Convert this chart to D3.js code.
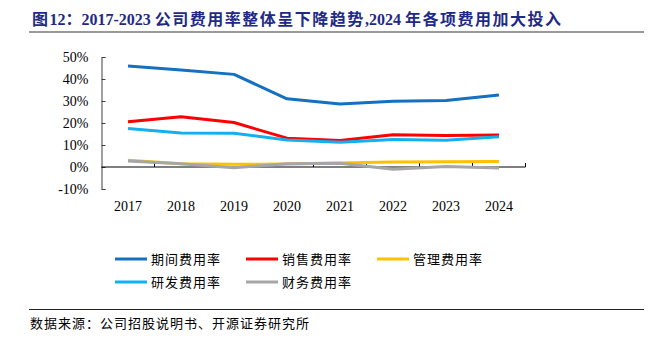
<!DOCTYPE html>
<html>
<head>
<meta charset="utf-8">
<script src="https://cdn.jsdelivr.net/npm/d3@7"></script>
<style>
  body { margin: 0; background: #fff; }
  svg { display: block; }
</style>
</head>
<body>
<div id="chart"></div>
<script>
var years = ["2017", "2018", "2019", "2020", "2021", "2022", "2023", "2024"];

var seriesNames  = ["期间费用率", "销售费用率", "管理费用率", "研发费用率", "财务费用率"];
var seriesColors = ["#1470c0", "#ff0000", "#ffc000", "#12b0ee", "#a6a6a6"];

var periodRate  = [0.459, 0.441, 0.421, 0.310, 0.286, 0.299, 0.302, 0.327];
var salesRate   = [0.206, 0.228, 0.202, 0.131, 0.120, 0.147, 0.143, 0.146];
var adminRate   = [0.031, 0.015, 0.012, 0.014, 0.018, 0.023, 0.024, 0.025];
var rdRate      = [0.175, 0.155, 0.153, 0.123, 0.112, 0.125, 0.122, 0.137];
var financeRate = [0.027, 0.015, -0.003, 0.015, 0.017, -0.010, 0.002, -0.004];

var seriesValues = [periodRate, salesRate, adminRate, rdRate, financeRate];

var yTicks = [-0.1, 0, 0.1, 0.2, 0.3, 0.4, 0.5];

var titleText = "图12：2017-2023 公司费用率整体呈下降趋势,2024 年各项费用加大投入";

var W = 651, H = 342;
var serif = "'Times New Roman', 'Liberation Serif', 'Noto Sans CJK SC', serif";
var cjk = "'Noto Sans CJK SC', sans-serif";

var svg = d3.select("#chart").append("svg")
    .attr("width", W)
    .attr("height", H);

// title: CJK runs get a bit of extra spacing, latin runs don't
var titleRuns = titleText.match(/[\u3000-\u9fff\uff00-\uffef]+|[^\u3000-\u9fff\uff00-\uffef]+/g);
svg.append("text")
    .attr("x", 32)
    .attr("y", 25)
    .attr("font-family", serif)
    .attr("font-weight", "bold")
    .attr("font-size", 16)
    .attr("fill", "#1f2a85")
    .selectAll("tspan")
    .data(titleRuns)
    .enter()
    .append("tspan")
    .attr("letter-spacing", function (d) { return /[\u3000-\u9fff]/.test(d) ? 1.5 : 0; })
    .text(function (d) { return d; });

svg.append("line")
    .attr("x1", 29).attr("x2", 644)
    .attr("y1", 32).attr("y2", 32)
    .attr("stroke", "#999")
    .attr("stroke-width", 2);

var x = d3.scaleBand().domain(years).range([101.5, 525.5]);
var y = d3.scaleLinear().domain([-0.1, 0.5]).range([189, 57]);

// y axis
var yAxis = svg.append("g")
    .attr("transform", "translate(101.5,0)")
    .call(d3.axisLeft(y)
        .tickValues(yTicks)
        .tickSize(-4)
        .tickPadding(13)
        .tickFormat(function (d) { return Math.round(d * 100) + "%"; }));

yAxis.select(".domain").attr("stroke", "#404040");
yAxis.selectAll(".tick line").attr("stroke", "#404040");
yAxis.selectAll("text")
    .attr("font-family", serif)
    .attr("font-size", 14)
    .attr("fill", "#000");

// x axis on the zero line, ticks between categories pointing up
var x0 = y(0);
svg.append("line")
    .attr("x1", x.range()[0]).attr("x2", x.range()[1])
    .attr("y1", x0).attr("y2", x0)
    .attr("stroke", "#000")
    .attr("stroke-width", 1);

svg.selectAll(".xtick")
    .data(years)
    .enter()
    .append("line")
    .attr("class", "xtick")
    .attr("x1", function (d) { return x(d) + x.bandwidth(); })
    .attr("x2", function (d) { return x(d) + x.bandwidth(); })
    .attr("y1", x0 - 4)
    .attr("y2", x0)
    .attr("stroke", "#000");

svg.selectAll(".xlabel")
    .data(years)
    .enter()
    .append("text")
    .attr("class", "xlabel")
    .attr("x", function (d) { return x(d) + x.bandwidth() / 2; })
    .attr("y", 211)
    .attr("text-anchor", "middle")
    .attr("font-family", serif)
    .attr("font-size", 14)
    .text(function (d) { return d; });

// lines
var line = d3.line()
    .x(function (d, i) { return x(years[i]) + x.bandwidth() / 2; })
    .y(function (d) { return y(d); });

svg.selectAll(".series")
    .data(seriesValues)
    .enter()
    .append("path")
    .attr("class", "series")
    .attr("d", line)
    .attr("fill", "none")
    .attr("stroke", function (d, i) { return seriesColors[i]; })
    .attr("stroke-width", 3)
    .attr("stroke-linejoin", "round");

// legend: 3 per row
var legend = svg.selectAll(".legend")
    .data(seriesNames)
    .enter()
    .append("g")
    .attr("class", "legend")
    .attr("transform", function (d, i) {
        return "translate(" + (115 + (i % 3) * 131) + "," + (259 + Math.floor(i / 3) * 23) + ")";
    });

legend.append("line")
    .attr("x1", 0).attr("x2", 32)
    .attr("y1", 0).attr("y2", 0)
    .attr("stroke", function (d, i) { return seriesColors[i]; })
    .attr("stroke-width", 3);

legend.append("text")
    .attr("x", 36)
    .attr("y", 5)
    .attr("font-family", cjk)
    .attr("font-size", 13)
    .attr("letter-spacing", 1)
    .text(function (d) { return d; });

// source
svg.append("line")
    .attr("x1", 29).attr("x2", 644)
    .attr("y1", 309.5).attr("y2", 309.5)
    .attr("stroke", "#222")
    .attr("stroke-width", 1);

svg.append("text")
    .attr("x", 30)
    .attr("y", 328)
    .attr("font-family", cjk)
    .attr("font-size", 13)
    .attr("letter-spacing", 1)
    .text("数据来源：公司招股说明书、开源证券研究所");
</script>
</body>
</html>
